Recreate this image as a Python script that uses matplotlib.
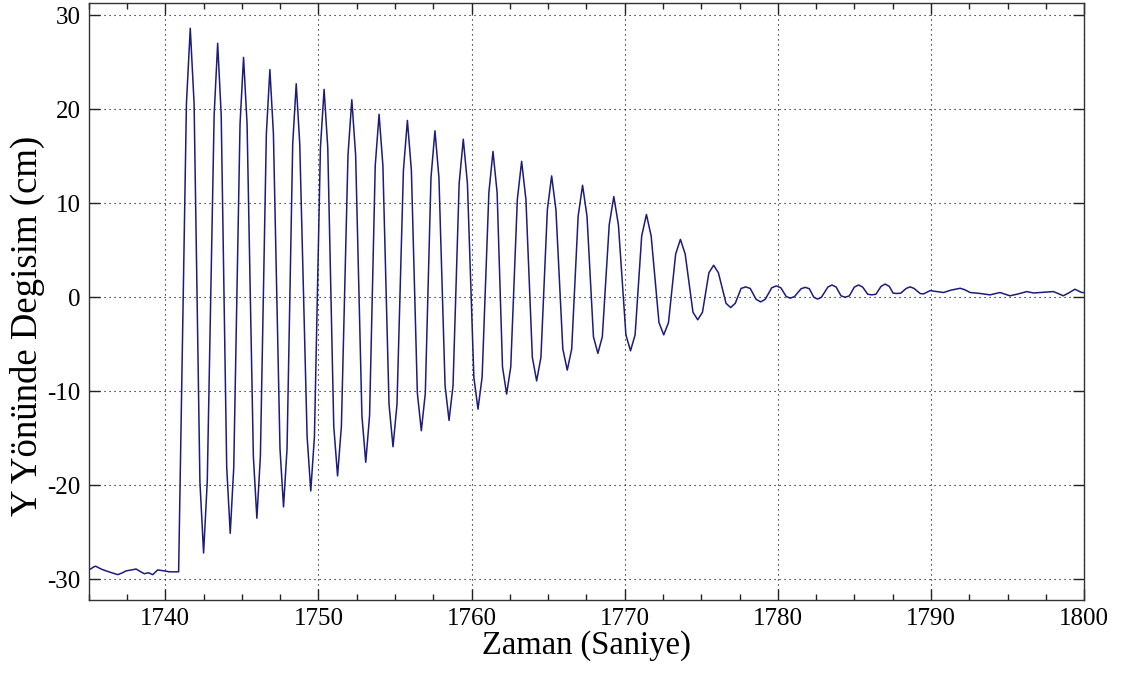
import matplotlib
matplotlib.use("Agg")
import matplotlib.pyplot as plt
from matplotlib.ticker import MultipleLocator

plt.rcParams['font.family'] = ['Liberation Serif', 'DejaVu Serif']
plt.rcParams['axes.unicode_minus'] = False

# Time (s) and displacement (cm)
pre_t = [1735.0, 1735.13, 1735.3, 1735.45, 1735.8, 1736.13, 1736.5, 1736.9, 1737.2, 1737.44,
         1737.8, 1738.09, 1738.4, 1738.63, 1738.9, 1739.18, 1739.5, 1739.93, 1740.26, 1740.74, 1740.87]
pre_v = [-28.9, -28.9, -28.7, -28.6, -28.9, -29.1, -29.3, -29.5, -29.3, -29.1,
         -29.0, -28.9, -29.2, -29.4, -29.3, -29.5, -29.0, -29.1, -29.2, -29.2, -29.2]

osc_t = [1741.38, 1741.63, 1741.88, 1742.26, 1742.50, 1742.74, 1743.19, 1743.42, 1743.65,
         1744.01, 1744.24, 1744.47, 1744.88, 1745.11, 1745.34, 1745.75, 1745.98, 1746.21,
         1746.60, 1746.83, 1747.06, 1747.49, 1747.72, 1747.95, 1748.32, 1748.55, 1748.78,
         1749.26, 1749.50, 1749.74, 1750.13, 1750.37, 1750.61, 1751.00, 1751.25, 1751.50,
         1751.93, 1752.18, 1752.43, 1752.84, 1753.09, 1753.34, 1753.71, 1753.96, 1754.21,
         1754.61, 1754.87, 1755.13, 1755.55, 1755.81, 1756.07, 1756.46, 1756.72, 1756.98,
         1757.35, 1757.61, 1757.87, 1758.27, 1758.53, 1758.79, 1759.19, 1759.46, 1759.73,
         1760.15, 1760.42, 1760.69, 1761.13, 1761.40, 1761.67, 1762.02, 1762.29, 1762.56,
         1762.99, 1763.27, 1763.55, 1763.97, 1764.25, 1764.53, 1764.95, 1765.23, 1765.51,
         1765.96, 1766.25, 1766.54, 1766.96, 1767.25, 1767.54, 1767.96, 1768.25, 1768.54,
         1768.99, 1769.29, 1769.59, 1770.08, 1770.38, 1770.68, 1771.11, 1771.42, 1771.73,
         1772.24, 1772.55, 1772.86, 1773.33, 1773.64, 1773.95, 1774.46, 1774.77, 1775.08,
         1775.50, 1775.81, 1776.12, 1776.62, 1776.92, 1777.22]
osc_v = [20.6, 28.6, 20.6, -19.6, -27.2, -19.6, 19.4, 27.0, 19.4,
         -18.1, -25.1, -18.1, 18.4, 25.5, 18.4, -16.9, -23.5, -16.9,
         17.4, 24.2, 17.4, -16.1, -22.3, -16.1, 16.3, 22.7, 16.3,
         -14.8, -20.6, -14.8, 15.9, 22.1, 15.9, -13.7, -19.0, -13.7,
         15.1, 21.0, 15.1, -12.6, -17.55, -12.6, 14.0, 19.45, 14.0,
         -11.4, -15.9, -11.4, 13.5, 18.8, 13.5, -10.2, -14.2, -10.2,
         12.7, 17.7, 12.7, -9.4, -13.1, -9.4, 12.1, 16.8, 12.1,
         -8.5, -11.9, -8.5, 11.1, 15.5, 11.1, -7.4, -10.3, -7.4,
         10.4, 14.45, 10.4, -6.4, -8.9, -6.4, 9.3, 12.9, 9.3,
         -5.5, -7.75, -5.5, 8.6, 11.9, 8.6, -4.2, -5.97, -4.2,
         7.7, 10.7, 7.7, -4.0, -5.7, -4.0, 6.5, 8.8, 6.5,
         -2.7, -4.0, -2.7, 4.6, 6.15, 4.6, -1.6, -2.4, -1.6,
         2.6, 3.4, 2.6, -0.65, -1.1, -0.65]

tail_t = [1777.60, 1777.90, 1778.20, 1778.58, 1778.88, 1779.18, 1779.60, 1779.90, 1780.20,
          1780.55, 1780.82, 1781.09, 1781.52, 1781.79, 1782.06, 1782.35, 1782.60, 1782.85,
          1783.27, 1783.54, 1783.81, 1784.13, 1784.40, 1784.67, 1785.00, 1785.27, 1785.54,
          1785.87, 1786.14, 1786.41, 1786.74, 1787.01, 1787.28, 1787.53, 1787.78, 1788.03,
          1788.38, 1788.64, 1788.90, 1789.30, 1789.51, 1789.95, 1790.40, 1790.82, 1791.30,
          1791.91, 1792.20, 1792.56, 1793.20, 1793.86, 1794.51, 1795.16, 1795.70, 1796.26,
          1796.70, 1797.13, 1797.99, 1798.30, 1798.64, 1799.05, 1799.40, 1799.84, 1800.0]
tail_v = [0.93, 1.1, 0.93, -0.22, -0.5, -0.22, 1.0, 1.2, 1.0,
          0.07, -0.1, 0.07, 0.9, 1.05, 0.9, 0.0, -0.2, 0.0,
          1.08, 1.3, 1.08, 0.14, 0.0, 0.14, 1.08, 1.3, 1.08,
          0.32, 0.25, 0.32, 1.15, 1.4, 1.15, 0.43, 0.4, 0.43,
          0.93, 1.1, 0.93, 0.39, 0.35, 0.7, 0.6, 0.5, 0.75,
          0.95, 0.8, 0.5, 0.4, 0.25, 0.5, 0.15, 0.35, 0.6,
          0.45, 0.5, 0.6, 0.4, 0.15, 0.5, 0.85, 0.5, 0.5]

t = pre_t + osc_t + tail_t
v = pre_v + osc_v + tail_v

fig = plt.figure(figsize=(11.29, 6.8), dpi=100)
ax = fig.add_axes([0.0786, 0.1176, 0.8816, 0.8775])
ax.plot(t, v, color='#1c1c7a', linewidth=1.1)

ax.set_xlim(1735, 1800)
ax.set_ylim(-32.2, 31.25)
ax.xaxis.set_major_locator(MultipleLocator(10))
ax.xaxis.set_minor_locator(MultipleLocator(2.5))
ax.yaxis.set_major_locator(MultipleLocator(10))

ax.grid(True, which='major', color='black', linestyle=(0, (1, 3.5)), linewidth=0.8)
ax.tick_params(which='both', direction='in', top=True, right=True, labelsize=18,
               color='#222222', pad=6)
ax.tick_params(which='major', length=8, width=1.0)
ax.tick_params(which='minor', length=4, width=1.0)
for s in ax.spines.values():
    s.set_color('#333333')
    s.set_linewidth(1.0)

ax.set_xlabel('Zaman (Saniye)', fontsize=23.5, labelpad=0)
ax.set_ylabel('Y Yönünde Degisim (cm)', fontsize=26.5)
ax.yaxis.set_label_coords(-0.044, 0.459)

fig.savefig('out.png', dpi=100)
